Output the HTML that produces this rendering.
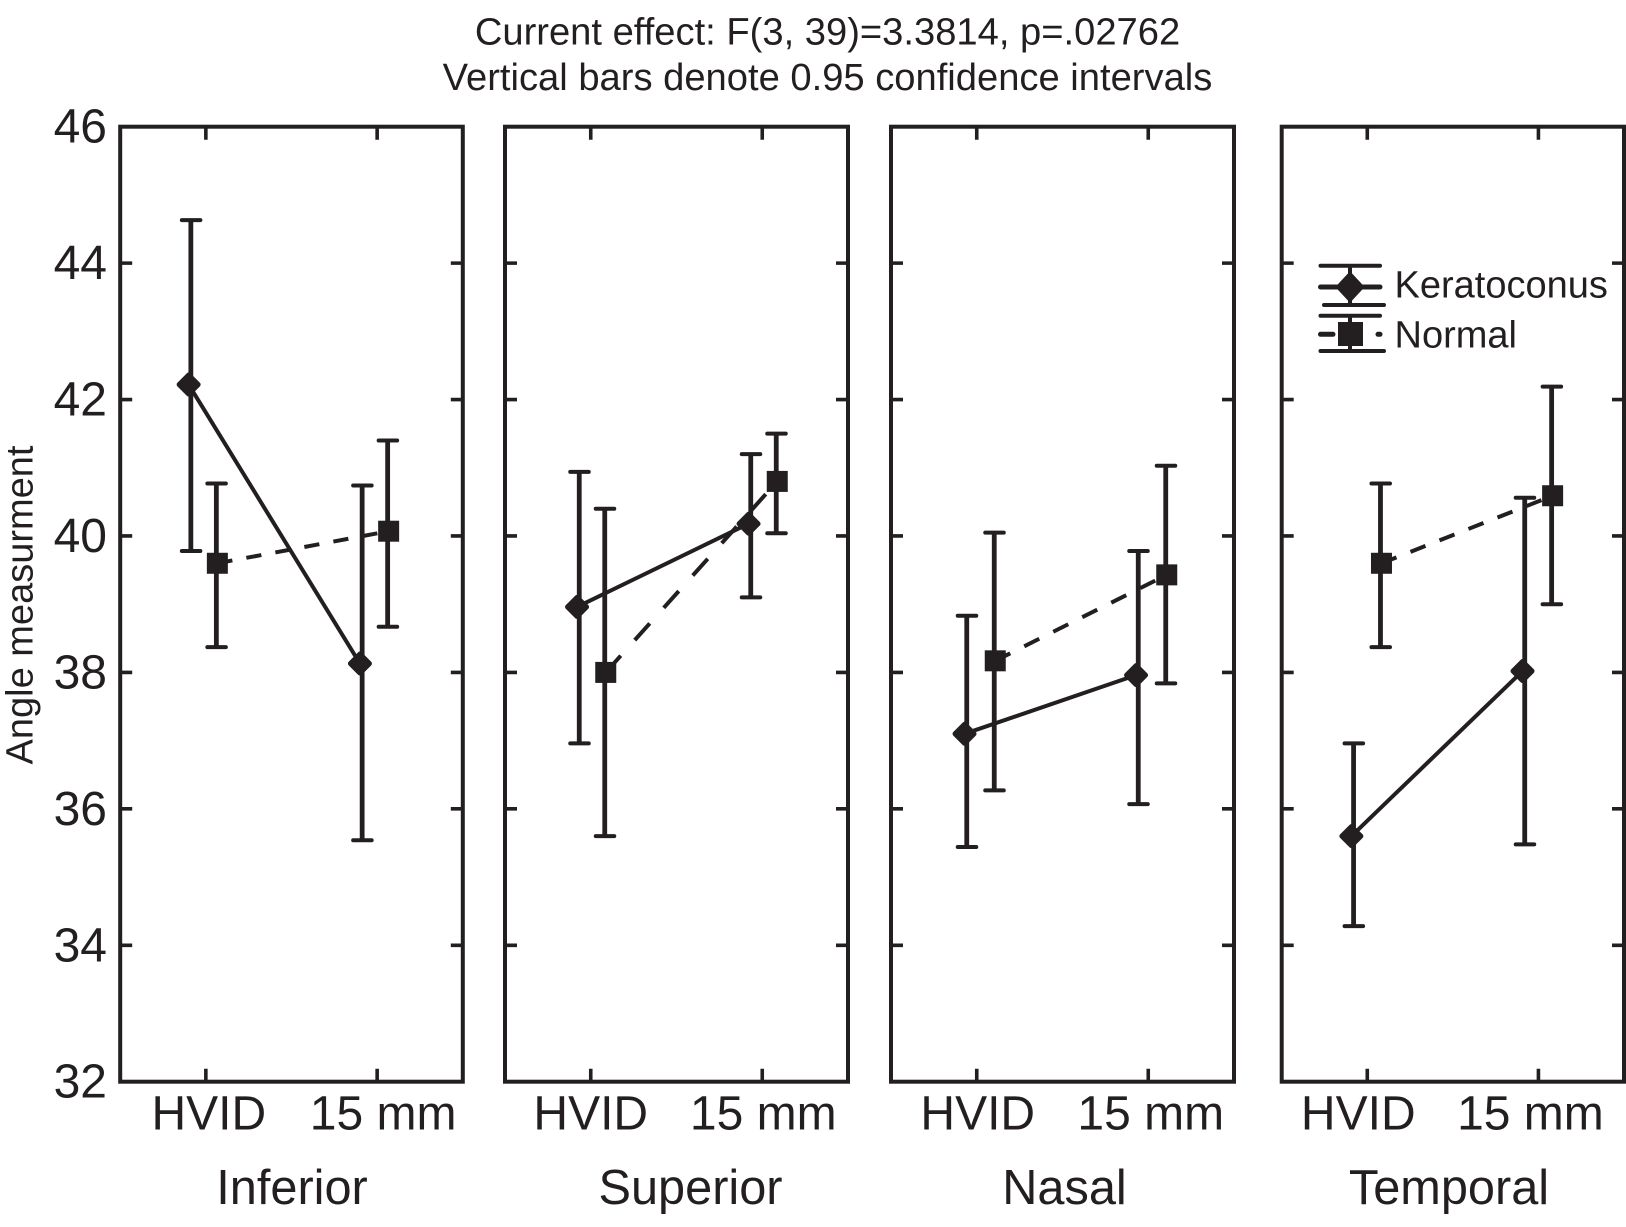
<!DOCTYPE html>
<html lang="en">
<head>
<meta charset="utf-8">
<title>Angle measurement interaction plot</title>
<style>
html,body{margin:0;padding:0;background:#fff;}
svg{display:block;}
text{font-family:"Liberation Sans",Arial,sans-serif;fill:#231f20;}
</style>
</head>
<body>
<svg id="chart" xmlns="http://www.w3.org/2000/svg" width="1626" height="1227" viewBox="0 0 1626 1227">
  <rect width="1626" height="1227" fill="#fff"/>
  <text x="827.5" y="44.5" font-size="38.15" text-anchor="middle">Current effect: F(3, 39)=3.3814, p=.02762</text>
  <text x="827.5" y="90" font-size="38.15" text-anchor="middle">Vertical bars denote 0.95 confidence intervals</text>
  <text transform="translate(32.5,605) rotate(-90)" font-size="38" text-anchor="middle">Angle measurment</text>
  <g id="panels"></g>
  <g stroke="#231f20" fill="none" stroke-linecap="round">
    <g>
      <path d="M1320.5 265.7H1380M1350 265.7V305M1324 305H1384" stroke-width="4"/>
      <path d="M1320.5 287H1380" stroke-width="5"/>
      <polygon points="1350,272 1364,287 1350,302 1336,287" fill="#231f20" stroke-width="1"/>
      <text x="1394.5" y="297.5" font-size="38" stroke="none" fill="#231f20">Keratoconus</text>
    </g>
    <g>
      <path d="M1320.5 315.7H1380M1350 315.7V351M1320.5 351H1384" stroke-width="4"/>
      <path d="M1320.5 334.3H1333M1378 334.3H1380" stroke-width="5"/>
      <rect x="1338" y="322" width="25" height="24" fill="#231f20" stroke="none"/>
      <text x="1394.5" y="347.5" font-size="38" stroke="none" fill="#231f20">Normal</text>
    </g>
  </g>
</svg>
<script>
const panelNames = ['Inferior', 'Superior', 'Nasal', 'Temporal'];
const categories = ['HVID', '15 mm'];
const yTickLabels = [46, 44, 42, 40, 38, 36, 34, 32];

const keratoconusMean = [[42.22, 38.13], [38.96, 40.18], [37.1, 37.96], [35.6, 38.02]];
const keratoconusHigh = [[44.63, 40.74], [40.94, 41.2], [38.83, 39.78], [36.96, 40.56]];
const keratoconusLow = [[39.78, 35.54], [36.96, 39.1], [35.44, 36.07], [34.28, 35.48]];

const normalMean = [[39.6, 40.07], [38.0, 40.8], [38.17, 39.43], [39.6, 40.59]];
const normalHigh = [[40.77, 41.4], [40.4, 41.5], [40.05, 41.03], [40.77, 42.19]];
const normalLow = [[38.37, 38.67], [35.6, 40.04], [36.27, 37.84], [38.37, 39.0]];

const NS = 'http://www.w3.org/2000/svg';
const INK = '#231f20';
const plotTop = 126.7;
const plotBottom = 1081.7;
const yMax = 46;
const yMin = 32;

function layoutFor(panel) {
  if (panel === 0) return { left: 120.2, right: 462.8, keratoDodge: -15, normalDodge: 10.5, labelShift: [3, 6], nameX: 292 };
  if (panel === 1) return { left: 505, right: 848, keratoDodge: -11.5, normalDodge: 14, labelShift: [0, 1], nameX: 690.5 };
  if (panel === 2) return { left: 891, right: 1234, keratoDodge: -10, normalDodge: 17.5, labelShift: [1, 2.5], nameX: 1064.5 };
  return { left: 1281.7, right: 1624, keratoDodge: -13.7, normalDodge: 13.2, labelShift: [-9, -8], nameX: 1449 };
}

function yScale(value) {
  return plotTop + (yMax - value) * (plotBottom - plotTop) / (yMax - yMin);
}

function xScale(layout, categoryIndex) {
  const width = layout.right - layout.left;
  return layout.left + width * (0.25 + 0.5 * categoryIndex);
}

function make(parent, tag, attrs, text) {
  const el = document.createElementNS(NS, tag);
  for (const key in attrs) el.setAttribute(key, attrs[key]);
  if (text !== undefined) el.textContent = text;
  parent.appendChild(el);
  return el;
}

function drawSeries(group, layout, prefix, dodge, mean, high, low, dashed, panelIndex) {
  const xs = categories.map((c, i) => xScale(layout, i) + dodge);
  const markerShift = dashed ? 1 : -2.2;
  const x1 = xs[0] + markerShift;
  const x2 = xs[1] + markerShift;
  const y1 = yScale(mean[panelIndex][0]);
  const y2 = yScale(mean[panelIndex][1]);
  const stretch = Math.hypot(x2 - x1, y2 - y1) / (x2 - x1);

  const line = make(group, 'line', {
    x1: x1, y1: y1, x2: x2, y2: y2,
    stroke: INK, 'stroke-width': dashed ? 4 : 4,
    'stroke-dasharray': dashed ? (15 * stretch) + ' ' + (14 * stretch) : 'none',
    'stroke-linecap': 'butt'
  });
  
  

  categories.forEach((category, i) => {
    const x = xs[i];
    const yHigh = yScale(high[panelIndex][i]);
    const yLow = yScale(low[panelIndex][i]);
    const yMean = yScale(mean[panelIndex][i]);

    const stem = make(group, 'line', { x1: x, y1: yHigh, x2: x, y2: yLow, stroke: INK, 'stroke-width': 4.8 });
    
    

    const capTop = make(group, 'line', { x1: x - 9, y1: yHigh, x2: x + 9.5, y2: yHigh, stroke: INK, 'stroke-width': 4, 'stroke-linecap': 'round' });
    
    

    const capBottom = make(group, 'line', { x1: x - 9, y1: yLow, x2: x + 9.5, y2: yLow, stroke: INK, 'stroke-width': 4, 'stroke-linecap': 'round' });
    
    

    const mx = x + markerShift;
    let marker;
    if (dashed) {
      marker = make(group, 'rect', { x: mx - 10.5, y: yMean - 10.5, width: 21, height: 21, fill: INK });
    } else {
      const r = 9.5;
      marker = make(group, 'polygon', {
        points: [[mx, yMean - r], [mx + r, yMean], [mx, yMean + r], [mx - r, yMean]].map(p => p.join(',')).join(' '),
        fill: INK, stroke: INK, 'stroke-width': 5, 'stroke-linejoin': 'round'
      });
    }
    
    
  });
}

const root = document.getElementById('panels');

yTickLabels.forEach((label) => {
  const tickText = make(root, 'text', { x: 107, y: yScale(label) + 16, 'font-size': 48, 'text-anchor': 'end' }, label);
  
  
});

panelNames.forEach((panelName, p) => {
  const layout = layoutFor(p);
  const slug = panelName.toLowerCase();
  const group = make(root, 'g', {});
  
  

  const frame = make(group, 'rect', {
    x: layout.left, y: plotTop, width: layout.right - layout.left, height: plotBottom - plotTop,
    fill: 'none', stroke: INK, 'stroke-width': 4
  });
  
  

  yTickLabels.slice(1, -1).forEach((label) => {
    const y = yScale(label);
    const ticks = make(group, 'path', {
      d: `M${layout.left} ${y}h12M${layout.right} ${y}h-12`,
      stroke: INK, 'stroke-width': 3.6, fill: 'none'
    });
    
    
  });

  categories.forEach((category, c) => {
    const x = xScale(layout, c);
    const ticks = make(group, 'path', {
      d: `M${x} ${plotTop}v13M${x} ${plotBottom}v-13`,
      stroke: INK, 'stroke-width': 3.6, fill: 'none'
    });
    
    

    const tickLabel = make(group, 'text', {
      x: x + layout.labelShift[c], y: 1129.5, 'font-size': 48, 'text-anchor': 'middle'
    }, category);
    
    
  });

  const title = make(group, 'text', { x: layout.nameX, y: 1204, 'font-size': 48.7, 'text-anchor': 'middle' }, panelName);
  
  

  drawSeries(group, layout, 'normal', layout.normalDodge, normalMean, normalHigh, normalLow, true, p);
  drawSeries(group, layout, 'keratoconus', layout.keratoDodge, keratoconusMean, keratoconusHigh, keratoconusLow, false, p);
});
</script>
</body>
</html>
